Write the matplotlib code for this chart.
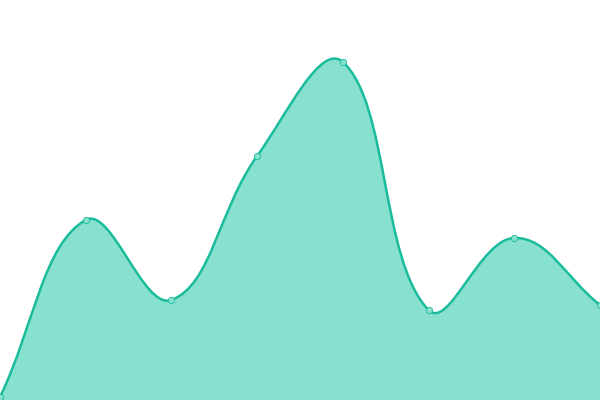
import matplotlib
matplotlib.use("Agg")
import matplotlib.pyplot as plt
from matplotlib.path import Path
from matplotlib.patches import PathPatch
import numpy as np

# values (0 = bottom edge, 400 = top edge)
labels = ["1", "2", "3", "4", "5", "6", "7", "8"]
values = [3, 180, 100, 244, 338, 90, 162, 95]

line_color = "#1abc9c"
fill_color = "#88e0cf"

W, H = 600, 400
tension = 0.4

# point positions in pixel-like units
n = len(values)
xs = np.arange(n) * W / (n - 1)
ys = np.array(values, dtype=float)
pts = np.column_stack([xs, ys])


def spline_controls(pts, t):
    # tension spline like the one chart libraries use
    prev_c, next_c = [], []
    for i in range(len(pts)):
        p0 = pts[i - 1] if i > 0 else pts[i]
        p1 = pts[i]
        p2 = pts[i + 1] if i < len(pts) - 1 else pts[i]
        d01 = np.hypot(*(p1 - p0))
        d12 = np.hypot(*(p2 - p1))
        tot = d01 + d12
        s01 = d01 / tot if tot else 0
        s12 = d12 / tot if tot else 0
        fa, fb = t * s01, t * s12
        c_prev = p1 - fa * (p2 - p0)
        c_next = p1 + fb * (p2 - p0)
        c_prev = np.clip(c_prev, [0, 0], [W, H])
        c_next = np.clip(c_next, [0, 0], [W, H])
        prev_c.append(c_prev)
        next_c.append(c_next)
    return prev_c, next_c


prev_c, next_c = spline_controls(pts, tension)

verts = [tuple(pts[0])]
codes = [Path.MOVETO]
for i in range(1, n):
    verts += [tuple(next_c[i - 1]), tuple(prev_c[i]), tuple(pts[i])]
    codes += [Path.CURVE4] * 3

line_path = Path(verts, codes)
fill_path = Path(verts + [(xs[-1], 0), (xs[0], 0), tuple(pts[0])],
                 codes + [Path.LINETO, Path.LINETO, Path.CLOSEPOLY])

fig = plt.figure(figsize=(6, 4), dpi=100)
ax = fig.add_axes([0, 0, 1, 1])
ax.set_xlim(0, W)
ax.set_ylim(0, H)
ax.axis("off")

ax.add_patch(PathPatch(fill_path, facecolor=fill_color, edgecolor="none"))
ax.add_patch(PathPatch(line_path, facecolor="none", edgecolor=line_color,
                       linewidth=1.8, capstyle="round", joinstyle="round"))
ax.plot(xs, ys, "o", markersize=4.5, markerfacecolor=fill_color,
        markeredgecolor=line_color, markeredgewidth=0.6, clip_on=False)

fig.savefig("out.png", dpi=100)
